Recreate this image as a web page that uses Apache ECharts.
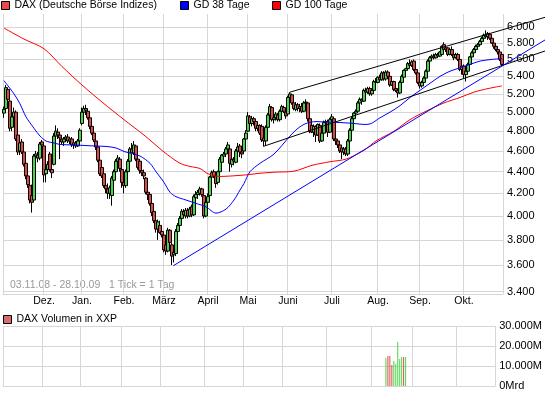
<!DOCTYPE html>
<html><head><meta charset="utf-8">
<script src="https://cdn.jsdelivr.net/npm/echarts@6/dist/echarts.min.js"></script>
<style>html,body{margin:0;padding:0;background:#fff}#c{width:545px;height:395px}</style>
</head><body><div id="c"></div>
<script>
// ---- data ----
const monthNames = ['Nov.','Dez.','Jan.','Feb.','März','April','Mai','Juni','Juli','Aug.','Sep.','Okt.'];
const monthDays  = [20,19,21,20,22,20,20,22,23,21,22,20];
const opens = [4990,5040,5250,5120,4840,4950,5000,4760,4600,4690,4590,4480,4360,4270,4180,4140,4550,4560,4530,4690,
4650,4380,4420,4570,4420,4470,4750,4790,4760,4720,4690,4720,4740,4700,4720,4660,4680,4650,4700,
4880,5000,5040,5010,4940,4850,4780,4700,4640,4510,4440,4380,4270,4240,4200,4180,4320,4400,4500,4520,4420,
4300,4270,4400,4500,4620,4580,4650,4520,4500,4410,4390,4340,4210,4190,4110,4040,3960,3890,3920,3870,
3840,3760,3710,3880,3760,3680,3690,3870,3920,3980,4040,4000,4050,4000,4080,4010,4160,4190,4200,4240,4180,4000,
4120,4180,4350,4400,4360,4300,4400,4490,4550,4570,4620,4620,4470,4520,4490,4600,4650,4590,4600,4720,
4800,4950,4880,4930,4900,4830,4860,4850,4730,4700,4840,4970,5050,4920,4940,4970,4920,5010,5050,5000,
4980,5160,5190,5100,5030,5080,5040,5060,5010,5100,5100,4930,4860,4790,4850,4760,4860,4700,4780,4890,4900,4790,
4920,4930,4720,4700,4660,4630,4590,4620,4570,4700,4810,4930,4990,5010,5100,5140,5120,5240,5220,5260,5200,5240,5340,
5330,5390,5360,5440,5370,5450,5400,5300,5340,5260,5240,5210,5330,5390,5470,5490,5550,5530,5580,5480,5440,
5330,5290,5330,5380,5460,5580,5620,5640,5620,5660,5640,5660,5780,5720,5740,5660,5720,5660,5620,5660,5600,5480,
5520,5420,5460,5540,5630,5680,5720,5760,5780,5820,5860,5900,5880,5910,5860,5800,5760,5720,5690,5660];
const closes = [5030,5270,5140,4830,4950,5000,4720,4590,4680,4590,4470,4360,4280,4140,4120,4550,4570,4530,4670,4660,
4370,4420,4470,4420,4390,4750,4800,4760,4730,4690,4720,4740,4700,4720,4660,4680,4650,4700,4810,
5000,5040,5020,4940,4850,4780,4710,4640,4510,4380,4360,4270,4240,4200,4250,4340,4400,4500,4530,4430,4300,
4270,4400,4500,4620,4580,4660,4520,4440,4410,4390,4360,4210,4190,4110,4030,3960,3890,3950,3860,3840,
3720,3710,3880,3780,3670,3700,3870,3920,3980,4040,4010,4050,4000,4060,4010,4170,4190,4210,4240,4190,4000,4120,
4170,4350,4390,4360,4290,4400,4520,4560,4570,4620,4660,4480,4520,4500,4600,4640,4590,4570,4720,4780,
4960,4880,4930,4900,4830,4860,4780,4710,4700,4840,4970,5060,4920,4940,4980,4920,5010,5060,5010,4960,
5160,5200,5100,5040,5080,5040,5060,5010,5100,5110,4930,4800,4790,4850,4760,4870,4700,4780,4890,4900,4790,4920,
4950,4720,4700,4660,4600,4590,4620,4570,4700,4810,4930,4990,5010,5100,5140,5120,5240,5220,5260,5200,5240,5340,5330,
5390,5360,5440,5370,5450,5400,5300,5340,5250,5240,5210,5330,5400,5470,5490,5550,5530,5570,5480,5440,5330,
5290,5330,5380,5460,5580,5620,5640,5620,5660,5640,5690,5760,5720,5740,5660,5720,5660,5620,5660,5600,5480,5520,
5420,5460,5540,5630,5680,5720,5760,5780,5820,5860,5900,5880,5920,5860,5800,5760,5720,5690,5600,5540];
const lows = [4940,5020,5100,4800,4800,4920,4700,4560,4560,4570,4450,4330,4250,4110,4030,4130,4480,4490,4510,4600,
4300,4300,4380,4400,4340,4460,4730,4720,4520,4660,4650,4690,4680,4670,4640,4620,4630,4640,4690,
4860,4950,4970,4920,4820,4760,4690,4610,4490,4360,4340,4250,4200,4150,4150,4090,4290,4380,4460,4400,4250,
4200,4250,4380,4480,4550,4560,4500,4420,4380,4360,4330,4190,4140,4090,4000,3940,3860,3800,3850,3820,
3700,3680,3700,3760,3600,3620,3670,3800,3880,3940,3990,3980,3980,3990,3990,4000,4120,4150,4180,4170,3980,3990,
4100,4170,4320,4340,4250,4280,4390,4470,4520,4540,4600,4400,4440,4460,4480,4570,4540,4530,4580,4700,
4790,4860,4850,4860,4800,4800,4760,4690,4650,4650,4830,4950,4900,4880,4910,4900,4900,4990,4990,4930,
4970,5120,5080,5020,5010,5010,5000,4990,5000,5060,4900,4780,4780,4740,4690,4750,4680,4690,4770,4860,4740,4780,
4900,4700,4660,4630,4580,4520,4560,4550,4550,4690,4800,4900,4960,5000,5070,5080,5110,5190,5200,5180,5180,5230,5300,
5320,5340,5350,5350,5350,5380,5280,5290,5230,5220,5160,5200,5310,5370,5430,5470,5500,5510,5460,5420,5310,
5260,5270,5310,5370,5450,5550,5590,5600,5610,5620,5630,5640,5700,5690,5640,5650,5640,5590,5610,5580,5460,5420,
5380,5340,5440,5520,5600,5660,5700,5730,5760,5800,5830,5860,5840,5840,5790,5730,5700,5660,5580,5520];
const highs = [5060,5300,5270,5140,4980,5050,5020,4790,4700,4720,4600,4500,4400,4290,4280,4570,4600,4590,4690,4710,
4680,4450,4500,4590,4450,4780,4860,4830,4790,4760,4740,4760,4770,4740,4740,4700,4700,4720,4830,
5050,5070,5080,5030,4960,4880,4800,4720,4670,4540,4460,4400,4310,4290,4270,4360,4420,4520,4560,4540,4450,
4330,4420,4520,4640,4680,4700,4660,4550,4510,4450,4420,4350,4240,4210,4120,4060,3990,3970,3960,3890,
3850,3780,3900,3890,3780,3720,3890,3940,4000,4060,4060,4070,4070,4080,4100,4190,4220,4230,4260,4250,4190,4140,
4200,4360,4410,4420,4380,4410,4540,4570,4590,4640,4690,4630,4550,4540,4620,4680,4670,4610,4730,4810,
5000,4970,4960,4950,4920,4880,4870,4870,4740,4860,4990,5090,5060,4960,5000,4990,5030,5080,5070,5020,
5180,5220,5200,5130,5110,5100,5090,5100,5120,5140,5110,4950,4870,4870,4860,4880,4880,4800,4910,4920,4920,4940,
4980,4940,4750,4710,4680,4640,4640,4640,4720,4830,4950,5000,5030,5120,5160,5150,5260,5270,5280,5280,5260,5360,5380,
5400,5420,5460,5460,5470,5470,5410,5350,5350,5290,5260,5350,5420,5480,5500,5570,5600,5590,5600,5520,5450,
5340,5350,5400,5480,5600,5640,5660,5670,5680,5680,5700,5770,5810,5760,5750,5740,5760,5690,5680,5680,5620,5560,
5540,5480,5560,5640,5700,5740,5780,5800,5840,5880,5920,5960,5940,5930,5900,5830,5790,5760,5700,5690];
// moving averages (trading-day index, value)
const gd38Days = [0,5,8,11,15,18,21,25,28,35,40,45,51,56,60,63,68,73,76,80,83,86,91,96,101,106,111,115,118,120,123,128,135,143,147,151,156,161,168,175,180,183,188,193,198,203,208,213,218,223,228,233,238,244,249];
const gd38Vals = [5350,5200,5090,4950,4830,4750,4700,4680,4665,4660,4655,4650,4645,4630,4595,4580,4550,4480,4400,4300,4210,4170,4140,4110,4080,4025,4060,4140,4230,4290,4400,4480,4570,4750,4830,4880,4900,4895,4890,4880,4870,4875,4940,5000,5070,5160,5240,5320,5400,5460,5500,5540,5580,5600,5610];
const gd100Days = [0,10,20,29,39,49,60,70,80,88,93,98,102,108,114,121,128,135,145,154,163,171,178,181,186,195,203,211,220,228,235,242,249];
const gd100Vals = [5990,5850,5730,5515,5300,5110,4920,4760,4590,4480,4450,4430,4380,4355,4360,4370,4385,4395,4405,4460,4495,4520,4585,4620,4700,4800,4920,5010,5100,5160,5220,5260,5290];
// trend lines: [startDay, startValue, endDay, endValue]
const trendUpper   = [143, 5220, 270.5, 6130];
const trendLower   = [129.6, 4645, 270.5, 5702];
const trendSupport = [84.65, 3595, 270.5, 5839];
// volume (million)
const volDays = [194,195,196,197,198,199,200,201,202,203,204];
const volVals = [14000,15000,15000,10500,12500,11000,22000,13500,14500,14500,14500];
const priceTicks = [3400,3600,3800,4000,4200,4400,4600,4800,5000,5200,5400,5600,5800,6000];
const volTicks = [0,10000,20000,30000];

// ---- build ----
const FONT = "'Liberation Sans', Arial, sans-serif";
const cats = []; const monthStart = {};
let n = 0;
monthDays.forEach((d, m) => { monthStart[n] = monthNames[m]; for (let k = 0; k < d; k++) { cats.push('d' + n); n++; } });
const candles = opens.map((o, i) => [o, closes[i], lows[i], highs[i]]);
const pairs = (a, b) => a.map((d, i) => [d, b[i]]);
const fmt = v => String(Math.round(v)).replace(/\B(?=(\d{3})+(?!\d))/g, '.');
const isStart = idx => Object.prototype.hasOwnProperty.call(monthStart, idx);
const GRID = '#d6d6d6';
const UP = '#44d844', DOWN = '#e04848';
const yMin = 3383.2, yMax = 6173.9;

const chart = echarts.init(document.getElementById('c'));
const legendBase = { orient: 'horizontal', padding: 0, selectedMode: false, itemWidth: 8, itemHeight: 8,
  textStyle: { fontFamily: FONT, fontSize: 10.5, color: '#000' } };
chart.setOption({
  animation: false,
  backgroundColor: '#fff',
  legend: [
    Object.assign({}, legendBase, { left: 1, top: 0, data: [{ name: 'DAX (Deutsche Börse Indizes)', icon: 'rect', itemStyle: { color: '#f04848', borderColor: '#000', borderWidth: 1 } }] }),
    Object.assign({}, legendBase, { left: 180, top: 0, data: [{ name: 'GD 38 Tage', icon: 'rect', itemStyle: { color: '#0000ff', borderColor: '#000', borderWidth: 1 } }] }),
    Object.assign({}, legendBase, { left: 272, top: 0, data: [{ name: 'GD 100 Tage', icon: 'rect', itemStyle: { color: '#ff0000', borderColor: '#000', borderWidth: 1 } }] }),
    Object.assign({}, legendBase, { left: 3, top: 314, data: [{ name: 'DAX Volumen in XXP', icon: 'rect', itemStyle: { color: '#d96b6b', borderColor: '#000', borderWidth: 1 } }] })
  ],
  grid: [
    { left: 3, right: 42, top: 14, height: 280 },
    { left: 3, right: 0, top: 14, height: 280 },
    { left: 3, right: 42, top: 326, height: 60 }
  ],
  xAxis: [
    { type: 'category', gridIndex: 0, data: cats, boundaryGap: true,
      axisLine: { show: true, lineStyle: { color: GRID } }, axisTick: { show: false },
      axisLabel: { interval: (i) => isStart(i) && i > 0, formatter: (v, i) => monthStart[i] || '', margin: 2,
        fontFamily: FONT, fontSize: 10.5, color: '#000' },
      splitLine: { show: true, interval: (i) => isStart(i), lineStyle: { color: GRID } } },
    { type: 'value', gridIndex: 1, min: -0.5, max: 270.5, show: false },
    { type: 'category', gridIndex: 2, data: cats, boundaryGap: true,
      axisLine: { show: true, lineStyle: { color: GRID } }, axisTick: { show: false }, axisLabel: { show: false },
      splitLine: { show: true, interval: (i) => isStart(i), lineStyle: { color: GRID } } }
  ],
  yAxis: [
    { type: 'log', gridIndex: 0, min: yMin, max: yMax, position: 'right',
      axisLine: { show: false }, axisTick: { show: false, customValues: priceTicks },
      axisLabel: { customValues: priceTicks, formatter: fmt, margin: 4, fontFamily: FONT, fontSize: 11, color: '#000' },
      splitLine: { show: true, lineStyle: { color: GRID } } },
    { type: 'log', gridIndex: 1, min: yMin, max: yMax, show: false, splitLine: { show: false } },
    { type: 'value', gridIndex: 2, min: 0, max: 30000, interval: 10000, position: 'right',
      axisLine: { show: false }, axisTick: { show: false },
      axisLabel: { formatter: v => v === 0 ? '0Mrd' : fmt(v) + 'M', margin: 4, fontFamily: FONT, fontSize: 11, color: '#000' },
      splitLine: { show: true, lineStyle: { color: GRID } } }
  ],
  series: [
    { name: 'DAX (Deutsche Börse Indizes)', type: 'candlestick', xAxisIndex: 0, yAxisIndex: 0, data: candles,
      barWidth: 3, z: 2,
      itemStyle: { color: UP, color0: DOWN, borderColor: '#000', borderColor0: '#000', borderWidth: 1 } },
    { name: 'GD 38 Tage', type: 'line', xAxisIndex: 0, yAxisIndex: 0, data: pairs(gd38Days, gd38Vals),
      showSymbol: false, symbol: 'none', smooth: 0.3, color: '#0000ff', lineStyle: { width: 1, color: '#0000ff' }, z: 3 },
    { name: 'GD 100 Tage', type: 'line', xAxisIndex: 0, yAxisIndex: 0, data: pairs(gd100Days, gd100Vals),
      showSymbol: false, symbol: 'none', smooth: 0.3, color: '#ff0000', lineStyle: { width: 1, color: '#ff0000' }, z: 3 },
    { type: 'line', xAxisIndex: 1, yAxisIndex: 1, data: [[trendUpper[0], trendUpper[1]], [trendUpper[2], trendUpper[3]]],
      symbol: 'none', lineStyle: { width: 1, color: '#000' }, z: 4, silent: true },
    { type: 'line', xAxisIndex: 1, yAxisIndex: 1, data: [[trendLower[0], trendLower[1]], [trendLower[2], trendLower[3]]],
      symbol: 'none', lineStyle: { width: 1, color: '#000' }, z: 4, silent: true },
    { type: 'line', xAxisIndex: 1, yAxisIndex: 1, data: [[trendSupport[0], trendSupport[1]], [trendSupport[2], trendSupport[3]]],
      symbol: 'none', lineStyle: { width: 1, color: '#0000ff' }, z: 4, silent: true },
    { name: 'DAX Volumen in XXP', type: 'bar', xAxisIndex: 2, yAxisIndex: 2, barWidth: 1, color: '#d96b6b',
      data: volDays.map((d, i) => ({ value: [d, volVals[i]], itemStyle: { color: closes[d] >= opens[d] ? UP : DOWN } })) }
  ],
  graphic: [
    { type: 'text', left: 10, top: 280, silent: true,
      style: { text: '03.11.08 - 28.10.09   1 Tick = 1 Tag', fill: '#9a9a9a', font: '10.5px ' + FONT } }
  ]
});
</script></body></html>
